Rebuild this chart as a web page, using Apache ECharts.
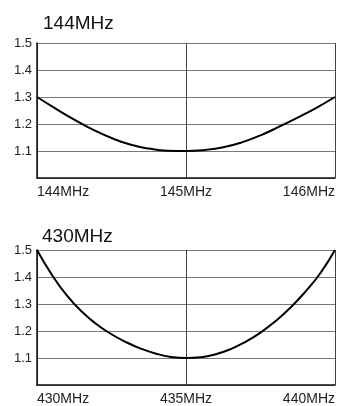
<!DOCTYPE html>
<html>
<head>
<meta charset="utf-8">
<script src="https://cdn.jsdelivr.net/npm/echarts@6/dist/echarts.min.js"></script>
<style>
  html, body { margin: 0; padding: 0; background: #fff; }
  #main { width: 338px; height: 406px; }
</style>
</head>
<body>
<div id="main"></div>
<script>
// titles
var titles = ['144MHz', '430MHz'];

// 144MHz band: frequency (MHz) / SWR
var freq144 = [144, 144.125, 144.25, 144.375, 144.5, 144.625, 144.75, 144.875, 145,
               145.125, 145.25, 145.375, 145.5, 145.625, 145.75, 145.875, 146];
var swr144 = [1.30, 1.257, 1.216, 1.179, 1.148, 1.124, 1.109, 1.101, 1.10,
              1.104, 1.114, 1.132, 1.158, 1.19, 1.224, 1.26, 1.30];
var xTicks144 = [144, 145, 146];

// 430MHz band
var freq430 = [430, 430.5, 431, 431.5, 432, 432.5, 433, 433.5, 434, 434.5, 435,
               435.5, 436, 436.5, 437, 437.5, 438, 438.5, 439, 439.5, 440];
var swr430 = [1.50, 1.408, 1.332, 1.272, 1.225, 1.188, 1.158, 1.134, 1.116, 1.104, 1.10,
              1.103, 1.114, 1.133, 1.16, 1.194, 1.236, 1.286, 1.345, 1.413, 1.50];
var xTicks430 = [430, 435, 440];

// SWR axis
var yTicks = [1.0, 1.1, 1.2, 1.3, 1.4, 1.5];

function zip(xs, ys) {
    var out = [];
    for (var i = 0; i < xs.length; i++) out.push([xs[i], ys[i]]);
    return out;
}

var FONT = '"Liberation Sans", Arial, sans-serif';

function xAxisFor(idx, ticks) {
    return {
        type: 'value', gridIndex: idx,
        min: ticks[0], max: ticks[ticks.length - 1],
        interval: ticks[1] - ticks[0],
        axisLine: { show: true, lineStyle: { color: '#111', width: 1.5 } },
        axisTick: { show: false },
        splitLine: { show: true, lineStyle: { color: '#444', width: 1 } },
        axisLabel: {
            color: '#222', fontSize: 14, fontFamily: FONT, margin: 7,
            alignMinLabel: 'left', alignMaxLabel: 'right',
            formatter: function (v) { return v + 'MHz'; }
        }
    };
}

function yAxisFor(idx) {
    return {
        type: 'value', gridIndex: idx,
        min: yTicks[0], max: yTicks[yTicks.length - 1],
        interval: 0.1,
        axisLine: { show: true, lineStyle: { color: '#111', width: 1.5 } },
        axisTick: { show: false },
        splitLine: { show: true, lineStyle: { color: '#777', width: 1 } },
        axisLabel: {
            color: '#222', fontSize: 13, fontFamily: FONT, margin: 5,
            formatter: function (v) { return Math.abs(v - 1) < 1e-6 ? '' : v.toFixed(1); }
        }
    };
}

var chart = echarts.init(document.getElementById('main'));
chart.setOption({
    animation: false,
    backgroundColor: '#fff',
    title: [
        { text: titles[0], left: 38, top: 9, textStyle: { fontSize: 19, fontWeight: 'normal', color: '#111', fontFamily: FONT } },
        { text: titles[1], left: 37, top: 222, textStyle: { fontSize: 19, fontWeight: 'normal', color: '#111', fontFamily: FONT } }
    ],
    grid: [
        { left: 37, top: 43, width: 298, height: 135 },
        { left: 37, top: 250, width: 298, height: 136 }
    ],
    xAxis: [xAxisFor(0, xTicks144), xAxisFor(1, xTicks430)],
    yAxis: [yAxisFor(0), yAxisFor(1)],
    series: [
        {
            type: 'line', xAxisIndex: 0, yAxisIndex: 0,
            data: zip(freq144, swr144), smooth: true, showSymbol: false,
            lineStyle: { color: '#000', width: 2 }
        },
        {
            type: 'line', xAxisIndex: 1, yAxisIndex: 1,
            data: zip(freq430, swr430), smooth: true, showSymbol: false,
            lineStyle: { color: '#000', width: 2 }
        }
    ]
});
</script>
</body>
</html>
